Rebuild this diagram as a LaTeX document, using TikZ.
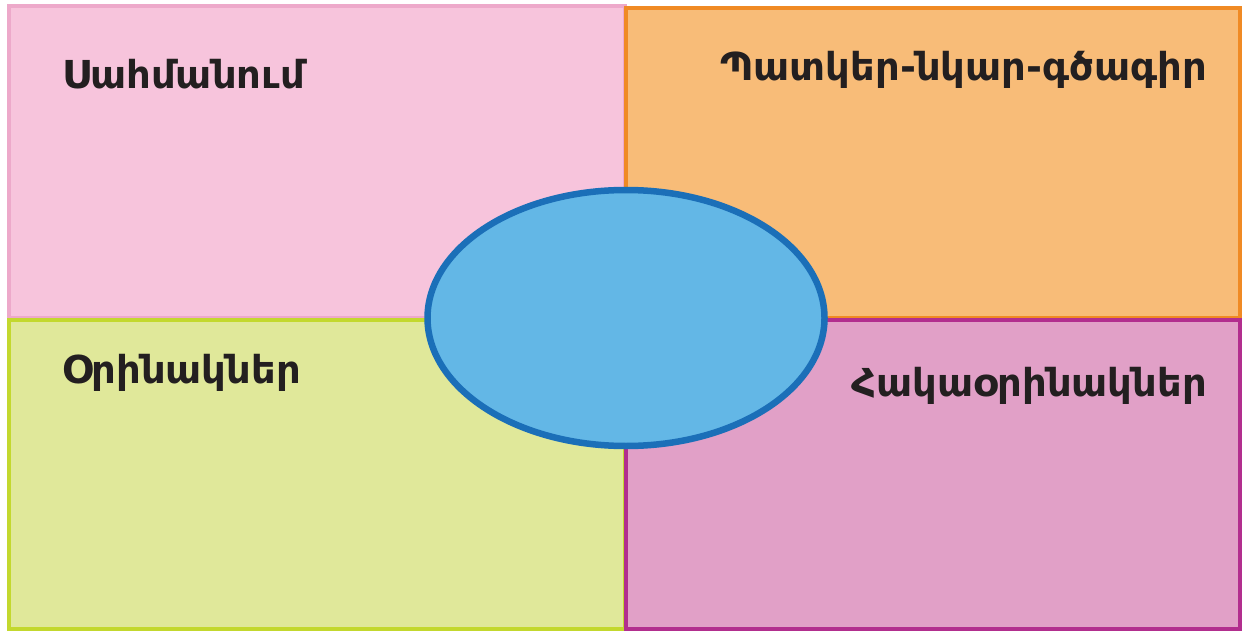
\documentclass[tikz,border=0pt]{standalone}
\usepackage{fontspec}
\setmainfont{DejaVu Sans}
\usetikzlibrary{shapes.geometric}

\definecolor{pinkfill}{HTML}{F7C4DC}
\definecolor{pinkline}{HTML}{EDA9CA}
\definecolor{orangefill}{HTML}{F8BC78}
\definecolor{orangeline}{HTML}{F08A24}
\definecolor{greenfill}{HTML}{E0E89A}
\definecolor{greenline}{HTML}{C3D82E}
\definecolor{magfill}{HTML}{E1A0C7}
\definecolor{magline}{HTML}{B22E8E}
\definecolor{ovalfill}{HTML}{63B7E6}
\definecolor{ovalline}{HTML}{1B6FB8}
\definecolor{ink}{HTML}{231F20}

\tikzset{
  panel/.style={line width=3.5pt},
  heading/.style={inner sep=0pt, text=ink, font=\bfseries\fontsize{38.5}{44}\selectfont},
}

\begin{document}
\begin{tikzpicture}[x=1pt,y=-1pt]
  \useasboundingbox[fill=white] (0,0) rectangle (1244,631);

  % four quadrants
  \draw[panel, fill=pinkfill, draw=pinkline] (9,6) rectangle (625,318);
  \draw[panel, fill=greenfill, draw=greenline] (9,320) rectangle (625,629);
  \draw[panel, fill=orangefill, draw=orangeline] (626,8) rectangle (1240,318);
  \draw[panel, fill=magfill, draw=magline] (626,320) rectangle (1240,629);

  % central oval
  \node[ellipse, draw=ovalline, fill=ovalfill, line width=6.5pt,
        minimum width=397pt, minimum height=256pt, inner sep=0pt] (core) at (626,318) {};

  % quadrant headings
  \node[heading, anchor=base west] (defn) at (62,89) {Սահմանում};
  \node[heading, anchor=base east] (pict) at (1207,81) {Պատկեր-նկար-գծագիր};
  \node[heading, anchor=base west] (expl) at (62,383) {Օրինակներ};
  \node[heading, anchor=base east] (cntr) at (1207,396) {Հակաօրինակներ};
\end{tikzpicture}
\end{document}
